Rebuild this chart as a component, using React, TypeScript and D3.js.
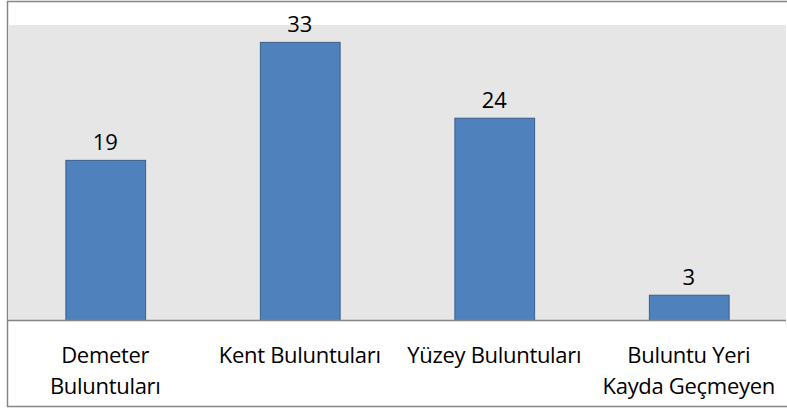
import React, { useRef, useEffect } from "react"
import * as d3 from "d3"

const categories = [
  ["Demeter", "Buluntuları"],
  ["Kent Buluntuları"],
  ["Yüzey Buluntuları"],
  ["Buluntu Yeri", "Kayda Geçmeyen"],
]
const values = [19, 33, 24, 3]

const width = 787
const height = 414

const App = () => {
  const ref = useRef<SVGSVGElement>(null)

  useEffect(() => {
    const svg = d3.select(ref.current)
    svg.selectAll("*").remove()

    const plot = { left: 8, right: 786, top: 25, bottom: 320 }
    const keys = categories.map((c) => c.join(" "))

    const x = d3.scaleBand().domain(keys).range([plot.left, plot.right]).paddingInner(0.59).paddingOuter(0.295)
    const y = d3.scaleLinear().domain([0, 35]).range([plot.bottom, plot.top])

    // outer frame (right edge is cut off in the original)
    svg.append("path")
      .attr("d", "M787,1.5 H7.5 V406.5 H787")
      .attr("fill", "none").attr("stroke", "#868686").attr("stroke-width", 1.5)

    // plot area
    svg.append("rect")
      .attr("x", plot.left).attr("y", plot.top)
      .attr("width", plot.right - plot.left).attr("height", plot.bottom - plot.top)
      .attr("fill", "#e6e6e6")

    svg.selectAll("rect.bar")
      .data(values)
      .enter()
      .append("rect")
        .attr("class", "bar")
        .attr("x", (d, i) => x(keys[i])! + 0.5)
        .attr("y", (d) => y(d) + 0.5)
        .attr("width", x.bandwidth())
        .attr("height", (d) => plot.bottom - y(d))
        .attr("fill", "#4f81bd")
        .attr("stroke", "#3a5f8b")
        .attr("stroke-width", 1)

    // axis line
    svg.append("line")
      .attr("x1", plot.left).attr("x2", plot.right)
      .attr("y1", plot.bottom + 0.5).attr("y2", plot.bottom + 0.5)
      .attr("stroke", "#868686").attr("stroke-width", 1.5)

    const font = "'Open Sans', sans-serif"

    svg.selectAll("text.val")
      .data(values)
      .enter()
      .append("text")
        .attr("class", "val")
        .attr("x", (d, i) => x(keys[i])! + x.bandwidth() / 2)
        .attr("y", (d) => y(d) - 10)
        .attr("text-anchor", "middle")
        .attr("font-family", font)
        .attr("font-size", 22)
        .attr("fill", "#000")
        .text((d) => d)

    const lbl = svg.selectAll("text.cat")
      .data(categories)
      .enter()
      .append("text")
        .attr("class", "cat")
        .attr("text-anchor", "middle")
        .attr("font-family", font)
        .attr("font-size", 22)
        .attr("letter-spacing", -0.3)
        .attr("fill", "#000")
        .attr("transform", (d, i) => "translate(" + (x(keys[i])! + x.bandwidth() / 2) + ", 0)")

    lbl.selectAll("tspan")
      .data((d) => d)
      .enter()
      .append("tspan")
        .attr("x", 0)
        .attr("y", (d, j) => 363 + j * 31)
        .text((d) => d)
  }, [])

  return (
    <svg ref={ref} width={width} height={height} style={{ position: "absolute", left: 0, top: 0 }} />
  )
}

export default App
